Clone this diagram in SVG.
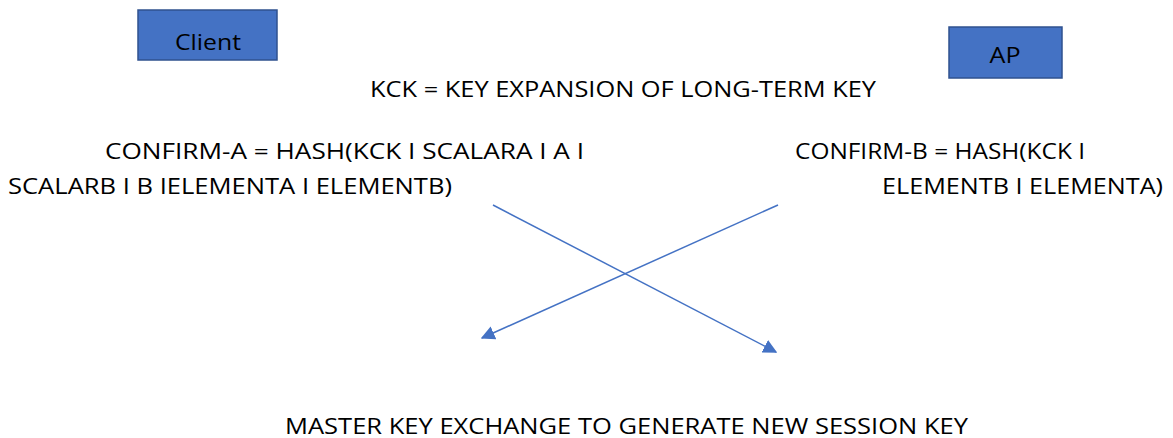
<svg xmlns="http://www.w3.org/2000/svg" width="1173" height="438" viewBox="0 0 1173 438">
<style>
.box{fill:#4472C4;stroke:#2F528F;stroke-width:1.5}
.t{font-family:"Open Sans","Liberation Sans",sans-serif;font-size:21px;fill:#000}
.bt{font-family:"Open Sans","Liberation Sans",sans-serif;font-size:21px;fill:#000;text-anchor:middle}
.c{stroke:#4472C4;stroke-width:1.5;fill:none}
</style>
<defs>
<marker id="ah" viewBox="0 0 10 10" refX="9" refY="5" markerWidth="14" markerHeight="14" markerUnits="userSpaceOnUse" orient="auto">
<path d="M0,0 L10,5 L0,10 z" fill="#4472C4"/>
</marker>
</defs>
<rect width="1173" height="438" fill="#fff"/>
<g id="client"><rect class="box" x="138" y="10" width="139" height="50"/><text class="bt" x="208" y="50" textLength="66" lengthAdjust="spacingAndGlyphs">Client</text></g>
<g id="ap"><rect class="box" x="949" y="27" width="113" height="51"/><text class="bt" x="1005" y="63" textLength="31" lengthAdjust="spacingAndGlyphs">AP</text></g>
<g id="kck"><text class="t" x="370" y="97" textLength="506" lengthAdjust="spacingAndGlyphs">KCK = KEY EXPANSION OF LONG-TERM KEY</text></g>
<g id="confirm-a"><text class="t" x="105" y="159" textLength="479" lengthAdjust="spacingAndGlyphs">CONFIRM-A = HASH(KCK  I SCALARA I A I</text><text class="t" x="8" y="194" textLength="444" lengthAdjust="spacingAndGlyphs">SCALARB I B IELEMENTA I ELEMENTB)</text></g>
<g id="confirm-b"><text class="t" x="795" y="159" textLength="290" lengthAdjust="spacingAndGlyphs">CONFIRM-B = HASH(KCK  I</text><text class="t" x="882" y="194" textLength="281" lengthAdjust="spacingAndGlyphs">ELEMENTB I ELEMENTA)</text></g>
<g id="master"><text class="t" x="285" y="434" textLength="683" lengthAdjust="spacingAndGlyphs">MASTER  KEY EXCHANGE  TO GENERATE NEW SESSION KEY</text></g>
<g id="connectors">
<line class="c" x1="493" y1="205" x2="776" y2="352" marker-end="url(#ah)"/>
<line class="c" x1="778" y1="205" x2="482" y2="338" marker-end="url(#ah)"/>
</g>
</svg>
